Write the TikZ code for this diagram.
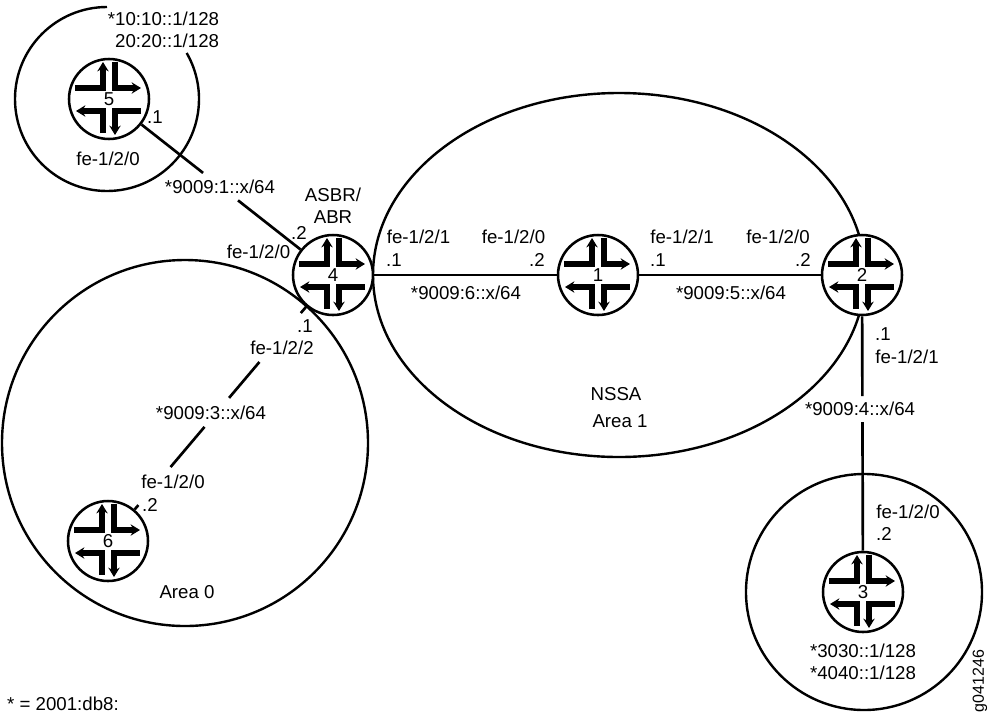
\documentclass[tikz,border=0pt]{standalone}
\usepackage{fontspec}
\setmainfont{Liberation Sans}
\usepackage{tikz}
\usetikzlibrary{arrows.meta, calc}

\tikzset{
    router/.style={circle, draw, fill=white, line width=1.9pt, minimum size=60pt, inner sep=0pt, font=\fontsize{14}{16}\selectfont,
        path picture={
            \coordinate (c) at (path picture bounding box.center);
            \draw[turn] ($(c)+(-34,-11)$) -- ($(c)+(-6,-11)$) -- ($(c)+(-6,-37)$);
            \draw[turn] ($(c)+(6,-37)$) -- ($(c)+(6,-11)$) -- ($(c)+(32,-11)$);
            \draw[turn] ($(c)+(-6,34)$) -- ($(c)+(-6,12)$) -- ($(c)+(-33,12)$);
            \draw[turn] ($(c)+(32,12)$) -- ($(c)+(6,12)$) -- ($(c)+(6,36)$);
        }},
    turn/.style={line width=4pt, -{Stealth[length=7pt,width=8.5pt]}, line join=miter},
    area/.style={line width=1.8pt},
    link/.style={line width=2pt},
    lbl/.style={font=\fontsize{14}{16.5}\selectfont, align=center, inner sep=1pt},
}

\begin{document}
\begin{tikzpicture}[x=0.75pt, y=-0.75pt]
    \useasboundingbox (0,0) rectangle (988,715);
    % Areas
    \draw[area] (107,7) arc (270:-30:92);
    \draw[area] (185,443) circle (183);
    \draw[area] (619,275) ellipse (246 and 182);
    \draw[area] (864,592) circle (118);
    % Routers
    \node[router] (r5) at (109,99) {5};
    \node[router] (r4) at (333,275) {4};
    \node[router] (r1) at (598,275) {1};
    \node[router] (r2) at (862,275) {2};
    \node[router] (r6) at (108,541) {6};
    \node[router] (r3) at (863,592) {3};
    % Links, broken where a label sits
    \draw[link] (r5) -- ($(r5)!.42!(r4)$);
    \draw[link] ($(r5)!.576!(r4)$) -- (r4);
    \draw[link] (r4) -- ($(r4)!.143!(r6)$);
    \draw[link] ($(r4)!.327!(r6)$) -- ($(r4)!.462!(r6)$);
    \draw[link] ($(r4)!.571!(r6)$) -- ($(r4)!.722!(r6)$);
    \draw[link] ($(r4)!.865!(r6)$) -- (r6);
    \draw[link] (r4) -- (r1);
    \draw[link] (r1) -- (r2);
    \draw[link] (r2) -- ($(r2)!.382!(r3)$);
    \draw[link] ($(r2)!.464!(r3)$) -- (r3);
    % Router 5
    \node[lbl, align=right] (lo5) at (163.5,30) {*10:10::1/128\\20:20::1/128};
    \node[lbl] (dot51) at (155,117) {.1};
    \node[lbl] (fe50) at (108,159) {fe-1/2/0};
    \node[lbl] (net1) at (220,187) {*9009:1::x/64};
    % Router 4
    \node[lbl] (asbr) at (333,206) {ASBR/\\ABR};
    \node[lbl] (dot42) at (299,233) {.2};
    \node[lbl] (fe40) at (258.5,252) {fe-1/2/0};
    \node[lbl] (fe41) at (418.5,237) {fe-1/2/1};
    \node[lbl] (dot41) at (394,260) {.1};
    \node[lbl] (dot43) at (305,326) {.1};
    \node[lbl] (fe42) at (282,348) {fe-1/2/2};
    % Router 6
    \node[lbl] (net3) at (211,413) {*9009:3::x/64};
    \node[lbl] (fe60) at (173,482) {fe-1/2/0};
    \node[lbl] (dot62) at (150,505) {.2};
    \node[lbl] (area0) at (187,592) {Area 0};
    % Router 1
    \node[lbl] (fe10) at (513.5,237) {fe-1/2/0};
    \node[lbl] (dot12) at (537,260) {.2};
    \node[lbl] (net6) at (466,293) {*9009:6::x/64};
    \node[lbl] (fe11) at (682,237) {fe-1/2/1};
    \node[lbl] (dot11) at (658,260) {.1};
    \node[lbl] (nssa) at (616,394) {NSSA};
    \node[lbl] (area1) at (620,421) {Area 1};
    % Router 2
    \node[lbl] (fe20) at (778,237) {fe-1/2/0};
    \node[lbl] (dot22) at (803,260) {.2};
    \node[lbl] (net5) at (731,293) {*9009:5::x/64};
    \node[lbl] (dot21) at (883,334) {.1};
    \node[lbl] (fe21) at (907,357) {fe-1/2/1};
    \node[lbl] (net4) at (860,409) {*9009:4::x/64};
    % Router 3
    \node[lbl] (fe30) at (908,512) {fe-1/2/0};
    \node[lbl] (dot32) at (884,534) {.2};
    \node[lbl] (lo3) at (863,662) {*3030::1/128\\*4040::1/128};
    % Notes
    \node[lbl] (note) at (63,704) {* = 2001:db8:};
    \node[lbl, rotate=90, font=\fontsize{12}{14}\selectfont] (fig) at (980,681) {g041246};
\end{tikzpicture}
\end{document}
